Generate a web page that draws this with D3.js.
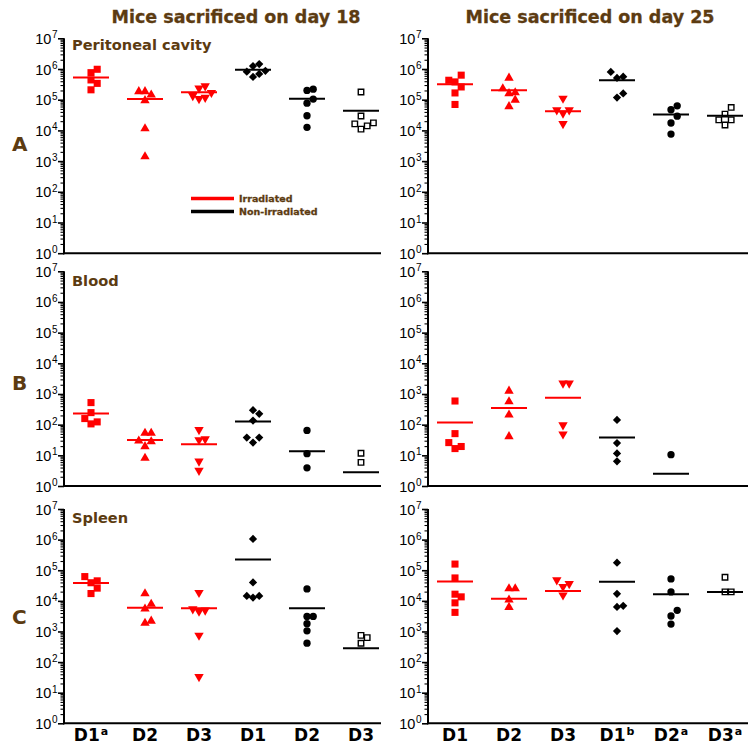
<!DOCTYPE html>
<html><head><meta charset="utf-8">
<script src="https://cdn.jsdelivr.net/npm/d3@7"></script>
<style>body{margin:0;background:#fff} svg{display:block}</style>
</head><body>
<svg id="c" width="748" height="745"></svg>
<script>
// ---------- DATA ----------
const titles = ["Mice sacrificed on day 18", "Mice sacrificed on day 25"];
const rowLetters = ["A", "B", "C"];
const tissues = ["Peritoneal cavity", "Blood", "Spleen"];
const groupsIrr = ["Irradiated","Irradiated","Irradiated","Non-irradiated","Non-irradiated","Non-irradiated"];
const xLabelsDay18 = ["D1","D2","D3","D1","D2","D3"];
const xSupDay18    = ["a","","","","",""];
const xLabelsDay25 = ["D1","D2","D3","D1","D2","D3"];
const xSupDay25    = ["","","","b","a","a"];
const legendLabels = ["Irradiated","Non-irradiated"];
const yTickExponents = [0,1,2,3,4,5,6,7];

// Peritoneal cavity
const peritonealDay18 = [
  [9.8e5,7.6e5,4.4e5,3.4e5,2.1e5],
  [1.86e5,1.86e5,1.44e5,9.4e4,1.14e4,1.4e3],
  [2.8e5,2.36e5,1.7e5,1.34e5,1.18e5,1.07e5],
  [1.45e6,1.25e6,8.7e5,8.2e5,6.9e5,5.5e5],
  [2.2e5,2.0e5,1.05e5,7.7e4,3.0e4,1.26e4],
  [1.78e5,2.95e4,1.76e4,1.63e4,1.4e4,1.1e4]
];
const peritonealDay18Mean = [5.3e5,1.05e5,1.75e5,9.4e5,1.07e5,4.4e4];
const peritonealDay25 = [
  [6.3e5,4.3e5,3.8e5,2.6e5,1.66e5,7.0e4],
  [5.1e5,2.3e5,1.7e5,1.6e5,9.8e4,6.0e4],
  [1.1e5,4.6e4,4.6e4,3.6e4,1.65e4],
  [8.0e5,5.6e5,5.1e5,1.6e5,1.17e5],
  [6.3e4,4.7e4,2.9e4,1.74e4,7.6e3],
  [5.6e4,3.4e4,2.2e4,2.2e4,1.5e4]
];
const peritonealDay25Mean = [3.2e5,2.05e5,4.2e4,4.3e5,3.3e4,3.0e4];
// Blood
const bloodDay18 = [
  [524,247,158,123,106],
  [53,53,29.5,28,19.4,8.1],
  [68,34,32,6.4,3.2],
  [295,225,136,38,38,26],
  [65,11.3,3.9],
  [11.7,5.9]
];
const bloodDay18Mean = [232,31.8,23,126,13.5,2.8];
const bloodDay25 = [
  [590,51,26,19.4,16.6],
  [1250,563,208,41],
  [2230,2230,97,49],
  [143,25,11.5,6.4],
  [10.5],
  []
];
const bloodDay25Mean = [117,351,760,38,2.5,null];
// Spleen
const spleenDay18 = [
  [6.2e4,4.5e4,3.9e4,2.6e4,1.73e4],
  [1.73e4,7.8e3,5.5e3,2.2e3,1.88e3],
  [1.86e4,5.4e3,4.9e3,4.5e3,740,33],
  [1.05e6,4.0e4,1.45e4,1.45e4,1.28e4],
  [2.45e4,3.1e3,3.1e3,1.8e3,1.05e3,415],
  [745,630,410]
];
const spleenDay18Mean = [3.8e4,5.9e3,5.7e3,2.26e5,5.7e3,282];
const spleenDay25 = [
  [1.59e5,5.6e4,1.65e4,1.35e4,8.6e3,4.2e3],
  [2.5e4,2.5e4,1.08e4,6.2e3],
  [4.8e4,3.6e4,2.9e4,1.53e4],
  [1.77e5,1.69e4,6.9e3,6.3e3,1.03e3],
  [5.2e4,1.96e4,4.9e3,3.2e3,1.74e3],
  [5.9e4,1.96e4,1.96e4]
];
const spleenDay25Mean = [4.3e4,1.16e4,2.1e4,4.2e4,1.63e4,1.96e4];

// ---------- LAYOUT / STYLE ----------
const BROWN = "#5c3b11";
const RED = "#ff0000";
const BOLD = "'DejaVu Sans', Verdana, sans-serif";
const ARIAL = "'Liberation Sans', Arial, sans-serif";
const rowRanges = [[253.2,38.3],[486,271.3],[723.3,509]];
const colRanges = [[64,388],[428,752]];
const lineEnds = [381,748];
const titleX = [236,590];
const tissueBaseline = [49.5,286,523];
const letterBaseline = [151,390,624];
const shapes = ["square","triangle","triangleDown","diamond","circle","squareOpen"];

const panels = [
  {r:0,c:0,v:peritonealDay18,m:peritonealDay18Mean},
  {r:0,c:1,v:peritonealDay25,m:peritonealDay25Mean},
  {r:1,c:0,v:bloodDay18,m:bloodDay18Mean},
  {r:1,c:1,v:bloodDay25,m:bloodDay25Mean},
  {r:2,c:0,v:spleenDay18,m:spleenDay18Mean},
  {r:2,c:1,v:spleenDay25,m:spleenDay25Mean}
];

const svg = d3.select("#c");
const colorOf = g => g === "Irradiated" ? RED : "#000";

// titles
titles.forEach((t,i) => svg.append("text").attr("x",titleX[i]).attr("y",23)
  .attr("text-anchor","middle").attr("font-family",BOLD).attr("font-weight","bold")
  .attr("font-size",17.5).attr("fill",BROWN).attr("stroke",BROWN).attr("stroke-width",0.3).text(t));

// row letters and tissue names
rowLetters.forEach((l,i) => {
  svg.append("text").attr("x",12).attr("y",letterBaseline[i]).attr("font-family",BOLD)
    .attr("font-weight","bold").attr("font-size",20).attr("fill",BROWN).text(l);
  svg.append("text").attr("x",72).attr("y",tissueBaseline[i]).attr("font-family",BOLD)
    .attr("font-weight","bold").attr("font-size",14.6).attr("fill",BROWN).text(tissues[i]);
});

const minorVals = [];
for (let e = 0; e < 7; e++) for (let k = 2; k <= 9; k++) minorVals.push(k * Math.pow(10,e));
const majorVals = yTickExponents.map(e => Math.pow(10,e));

function symbolPath(shape) {
  switch (shape) {
    case "square": return d3.symbol(d3.symbolSquare, 50)();
    case "triangle": return d3.symbol(d3.symbolTriangle, 38)();
    case "triangleDown": return d3.symbol(d3.symbolTriangle, 38)();
    case "diamond": return d3.symbol(d3.symbolSquare, 34)();
    case "circle": return d3.symbol(d3.symbolCircle, 42)();
    case "squareOpen": return d3.symbol(d3.symbolSquare, 30)();
  }
}
function symbolRotation(shape) {
  return shape === "triangleDown" ? 180 : shape === "diamond" ? 45 : 0;
}

panels.forEach(p => {
  const y = d3.scaleLog().domain([1,1e7]).range(rowRanges[p.r]);
  const x = d3.scaleBand().domain(d3.range(6)).range(colRanges[p.c]);
  const x0 = colRanges[p.c][0];
  const g = svg.append("g");

  // minor ticks
  g.append("g").attr("transform",`translate(${x0},0)`)
    .call(d3.axisLeft(y).tickValues(minorVals).tickSize(3.5).tickFormat(""))
    .call(a => { a.select(".domain").remove(); a.selectAll("line").attr("stroke-width",1.1); });
  // major ticks
  const maj = g.append("g").attr("transform",`translate(${x0},0)`)
    .call(d3.axisLeft(y).tickValues(majorVals).tickSize(6).tickFormat(""))
    .call(a => { a.select(".domain").remove(); a.selectAll("line").attr("stroke-width",1.6); });
  maj.selectAll(".tick").each(function(d) {
    const t = d3.select(this).append("text").attr("x",-6.5).attr("y",5).attr("dy",0)
      .attr("text-anchor","end").attr("fill","#000").attr("font-family",ARIAL).attr("font-size",14.5);
    t.append("tspan").text("10");
    t.append("tspan").attr("font-size",10).attr("dy",-5.5).attr("dx",0.5).text(String(Math.round(Math.log10(d))));
  });
  // axis lines
  g.append("line").attr("x1",x0).attr("x2",x0).attr("y1",y(1e7)).attr("y2",y(1)+1)
    .attr("stroke","#000").attr("stroke-width",2);
  g.append("line").attr("x1",x0-1).attr("x2",lineEnds[p.c]).attr("y1",y(1)).attr("y2",y(1))
    .attr("stroke","#000").attr("stroke-width",2);

  // x labels on bottom row
  if (p.r === 2) {
    const labs = p.c === 0 ? xLabelsDay18 : xLabelsDay25;
    const sups = p.c === 0 ? xSupDay18 : xSupDay25;
    const xa = g.append("g").attr("transform",`translate(0,${y(1)})`)
      .call(d3.axisBottom(x).tickSize(0).tickFormat(""))
      .call(a => a.select(".domain").remove());
    xa.selectAll(".tick").each(function(i) {
      const t = d3.select(this).append("text").attr("y",741 - y(1)).attr("dy",0)
        .attr("text-anchor","middle").attr("fill","#000").attr("font-family",BOLD)
        .attr("font-weight","bold").attr("font-size",17);
      t.append("tspan").text(labs[i]);
      if (sups[i]) t.append("tspan").attr("font-size",11).attr("dy",-6).attr("dx",1).text(sups[i]);
    });
  }

  // points with simple deterministic swarm
  const step = 6.2, thr = 7;
  p.v.forEach((vals, i) => {
    const cx = x(i) + x.bandwidth()/2;
    const shape = shapes[i];
    const col = colorOf(groupsIrr[i]);
    const placed = [];
    const sorted = vals.slice().sort((a,b) => a-b);
    sorted.forEach(v => {
      const py = y(v);
      const cands = [0,1,-1,2,-2,3,-3];
      let slot = 0;
      for (const s of cands) {
        if (!placed.some(q => q.s === s && Math.abs(q.y - py) < thr)) { slot = s; break; }
      }
      placed.push({s:slot, y:py, v});
    });
    g.append("g").selectAll("path").data(placed).join("path")
      .attr("d", symbolPath(shape))
      .attr("transform", d => `translate(${cx + d.s*step},${d.y}) rotate(${symbolRotation(shape)})`)
      .attr("fill", shape === "squareOpen" ? "#fff" : col)
      .attr("stroke", shape === "squareOpen" ? col : "none")
      .attr("stroke-width", 1.4);
    const mv = p.m[i];
    if (mv != null) {
      g.append("line").attr("x1",cx-18).attr("x2",cx+18).attr("y1",y(mv)).attr("y2",y(mv))
        .attr("stroke",col).attr("stroke-width",2);
    }
  });
});

// legend
const legY = [198.5, 211.5];
legendLabels.forEach((l,i) => {
  svg.append("line").attr("x1",191).attr("x2",234).attr("y1",legY[i]).attr("y2",legY[i])
    .attr("stroke",colorOf(l)).attr("stroke-width",3.5);
  svg.append("text").attr("x",239).attr("y",legY[i]+3.3).attr("font-family",BOLD)
    .attr("font-weight","bold").attr("font-size",9.5).attr("fill",BROWN)
    .attr("stroke",BROWN).attr("stroke-width",0.3).text(l);
});
</script></body></html>
